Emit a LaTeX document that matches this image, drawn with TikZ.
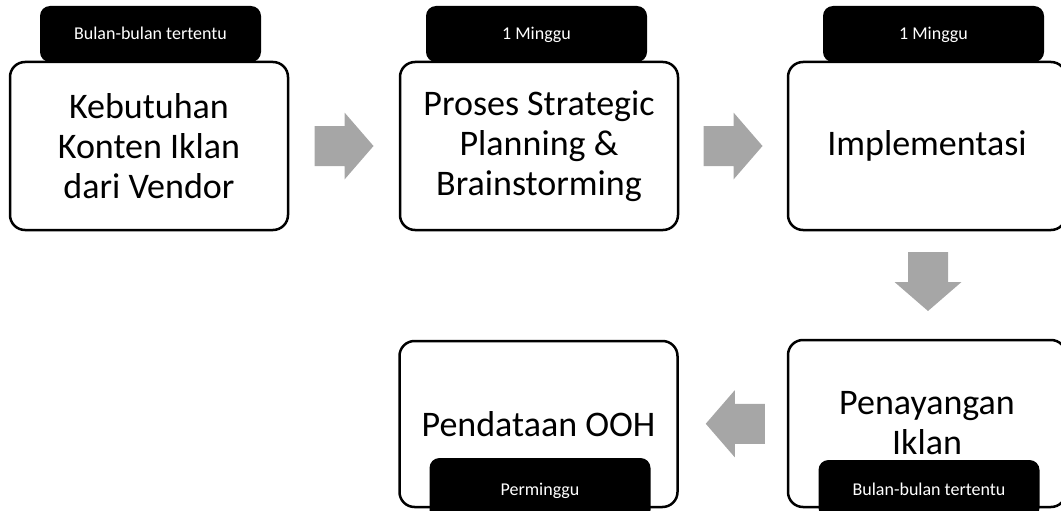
\documentclass[tikz,border=0pt]{standalone}
\usepackage{fontspec}
\setmainfont{Carlito}
\usetikzlibrary{calc}
\definecolor{arrowgray}{RGB}{166,166,166}
\tikzset{
  stepbox/.style={draw=black, line width=2.5pt, fill=white, rounded corners=15pt,
    minimum width=278pt, align=center, font=\fontsize{36}{40}\selectfont, inner sep=0pt},
  tabbox/.style={fill=black, rounded corners=10pt, minimum width=221pt,
    text=white, font=\fontsize{18}{20}\selectfont, inner sep=0pt,
    text height=15.5pt, text depth=3.5pt},
  blockarrow/.pic={\fill[arrowgray] (-29.5,-20) -- (0.5,-20) -- (0.5,-33.5) -- (29.5,0)
    -- (0.5,33.5) -- (0.5,20) -- (-29.5,20) -- cycle;}
}
\begin{document}
\begin{tikzpicture}[x=1pt,y=-1pt]
\useasboundingbox (0,0) rectangle (1061,511);
\clip (0,0) rectangle (1061,511);
% top tabs
\node[tabbox, minimum height=56pt] (tab1) at (150.5,34) {Bulan-bulan tertentu};
\node[tabbox, minimum height=56pt] (tab2) at (536.5,34) {1 Minggu};
\node[tabbox, minimum height=56pt] (tab3) at (933.5,34) {1 Minggu};
% top boxes
\node[stepbox, minimum height=168pt] (box1) at (149,146) {Kebutuhan\\Konten Iklan\\dari Vendor};
\node[stepbox, minimum height=168pt] (box2) at (539,146) {Proses Strategic\\Planning \&\\Brainstorming};
\node[stepbox, minimum height=168pt] (box3) at (927,146) {Implementasi};
% bottom boxes
\node[stepbox, minimum height=166pt] (box4) at (538.5,424) {Pendataan OOH};
\node[stepbox, minimum height=167pt] (box5) at (927,423.5) {Penayangan\\Iklan};
% bottom tabs
\node[tabbox, minimum height=62pt] (tab4) at (540,489) {Perminggu};
\node[tabbox, minimum height=58pt] (tab5) at (929,489) {Bulan-bulan tertentu};
% block arrows
\coordinate (a1) at ($(box1.east)!0.5!(box2.west)$);
\coordinate (a2) at ($(box2.east)!0.5!(box3.west)$);
\coordinate (a3) at ($(box3.south)!0.5!(box5.north)+(1,-3.5)$);
\coordinate (a4) at ($(box4.east)!0.5!(box5.west)+(2.5,0)$);
\pic at (a1) {blockarrow};
\pic at (a2) {blockarrow};
\pic[rotate=-90] at (a3) {blockarrow};
\pic[rotate=180] at (a4) {blockarrow};
\end{tikzpicture}
\end{document}
